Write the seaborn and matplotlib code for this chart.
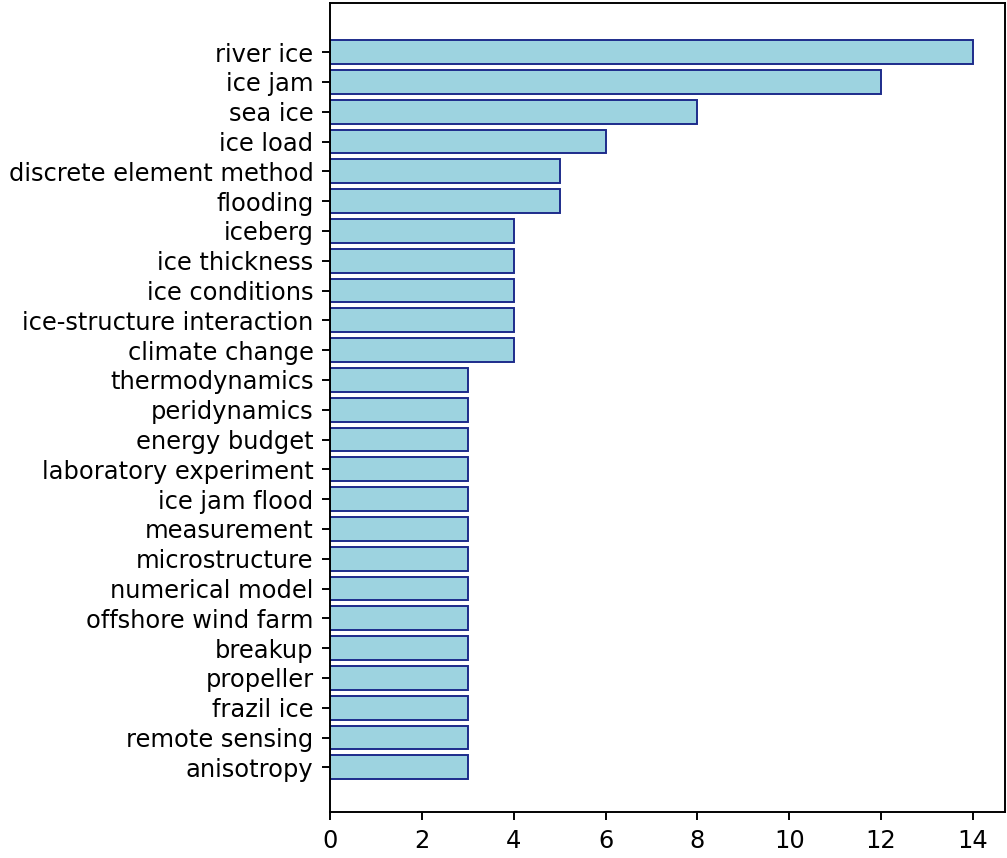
import matplotlib
matplotlib.use("Agg")
import pandas as pd
import matplotlib.pyplot as plt
import seaborn as sns

# === Data ===
keywords = [
    "river ice", "ice jam", "sea ice", "ice load", "discrete element method",
    "flooding", "iceberg", "ice thickness", "ice conditions",
    "ice-structure interaction", "climate change", "thermodynamics",
    "peridynamics", "energy budget", "laboratory experiment", "ice jam flood",
    "measurement", "microstructure", "numerical model", "offshore wind farm",
    "breakup", "propeller", "frazil ice", "remote sensing", "anisotropy",
]
counts = [14, 12, 8, 6, 5, 5, 4, 4, 4, 4, 4, 3, 3, 3, 3, 3, 3, 3, 3, 3, 3, 3, 3, 3, 3]

df = pd.DataFrame({"keyword": keywords, "count": counts})

# === Plot ===
dpi = 174
fig, ax = plt.subplots(figsize=(1007 / dpi, 858 / dpi), dpi=dpi)
fig.subplots_adjust(left=0.328, right=0.998, top=0.9965, bottom=0.0536)

sns.barplot(data=df, x="count", y="keyword", orient="h", ax=ax,
            color="#9dd3e0", edgecolor="#1c2a8a", linewidth=0.8, width=0.8,
            saturation=1)

ax.set_ylim(25.5, -1.65)
ax.set_xlim(0, 14.7)
ax.set_xlabel("")
ax.set_ylabel("")

fig.savefig("out.png", dpi=dpi)
